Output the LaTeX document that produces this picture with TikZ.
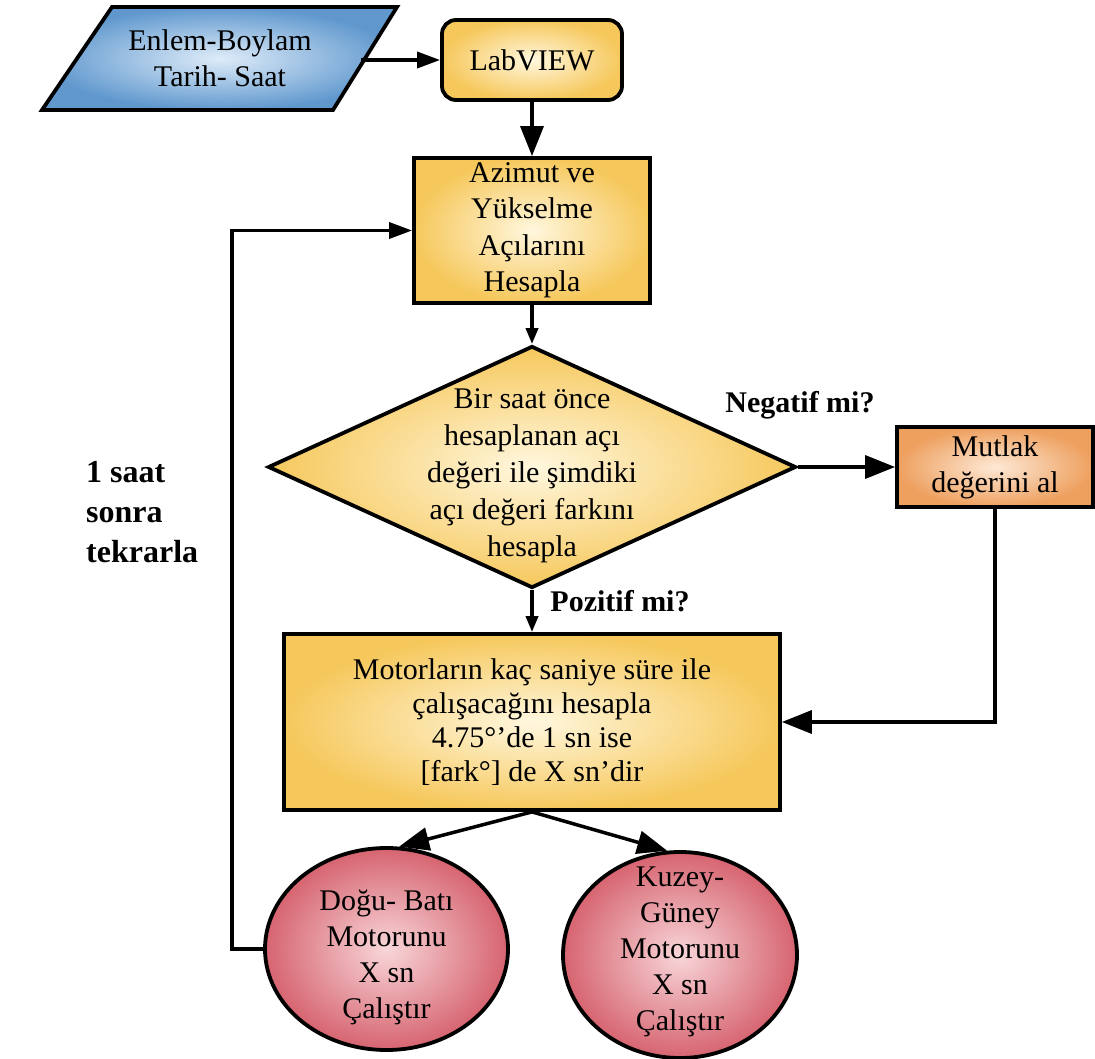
\documentclass[tikz,border=0pt]{standalone}
\usepackage{fontspec}
\setmainfont{Liberation Serif}
\usetikzlibrary{shapes.geometric,arrows.meta}
\definecolor{yelO}{RGB}{246,200,92}
\definecolor{yelI}{RGB}{255,247,222}
\definecolor{bluO}{RGB}{96,152,206}
\definecolor{bluI}{RGB}{222,236,249}
\definecolor{orgO}{RGB}{238,160,95}
\definecolor{orgI}{RGB}{253,233,214}
\definecolor{pnkO}{RGB}{214,100,112}
\definecolor{pnkI}{RGB}{248,214,217}
\begin{document}
\begin{tikzpicture}[x=1pt,y=-1pt,
  shp/.style={draw=black, line width=3.8pt, align=center, inner sep=0pt,
    font=\fontsize{30}{36}\selectfont},
  txt/.style={align=center, inner sep=0pt, font=\fontsize{30}{36}\selectfont},
  yel/.style={inner color=yelI, outer color=yelO},
  blu/.style={inner color=bluI, outer color=bluO},
  org/.style={inner color=orgI, outer color=orgO},
  pnk/.style={inner color=pnkI, outer color=pnkO},
  arrS/.style={line width=3.5pt, -{Triangle[length=16pt,width=12pt]}},
  arrM/.style={line width=3.5pt, -{Triangle[length=23pt,width=16pt]}},
  arrL/.style={line width=3.5pt, -{Triangle[length=30pt,width=23pt]}},
  lbl/.style={inner sep=0pt, font=\bfseries\fontsize{30}{36}\selectfont}]
\fill[white] (0,0) rectangle (1095,1059);
\useasboundingbox (0,0) rectangle (1095,1059);

% input parallelogram
\shade[blu, draw=black, line width=3.8pt, line join=miter]
  (112,7) -- (397,7) -- (333,110) -- (42,110) -- cycle;
\node[txt] (input) at (220,58) {Enlem-Boylam\\Tarih- Saat};
\coordinate (inR) at (361,60);

\node[shp, yel, rounded corners=14pt, minimum width=180pt, minimum height=80pt] (lab) at (532,60) {LabVIEW};
\node[shp, yel, minimum width=236pt, minimum height=145pt, font=\fontsize{30}{36.5}\selectfont] (az) at (532,230.5) {Azimut ve\\Yükselme\\Açılarını\\Hesapla};
\node[shp, yel, diamond, minimum width=528pt, minimum height=242pt] (dec) at (532,467) {};
\node[txt, font=\fontsize{30}{37}\selectfont] (dect) at (532,476) {Bir saat önce\\hesaplanan açı\\değeri ile şimdiki\\açı değeri farkını\\hesapla};
\node[shp, org, minimum width=196pt, minimum height=80pt] (mut) at (995,467) {Mutlak\\değerini al};
\node[shp, yel, minimum width=496pt, minimum height=176pt, font=\fontsize{30}{34}\selectfont] (mot) at (532,722) {Motorların kaç saniye süre ile\\çalışacağını hesapla\\4.75°’de 1 sn ise\\{[fark°]} de X sn’dir};
\node[shp, pnk, ellipse, minimum width=243pt, minimum height=202pt] (e1) at (386.5,949) {};
\node[txt] (e1t) at (386.5,957) {Doğu- Batı\\Motorunu\\X sn\\Çalıştır};
\node[shp, pnk, ellipse, minimum width=234pt, minimum height=206pt] (e2) at (680,955) {};
\node[txt] (e2t) at (680,952) {Kuzey-\\Güney\\Motorunu\\X sn\\Çalıştır};

\node[lbl] (neg) at (800,405) {Negatif mi?};
\node[lbl] (poz) at (620,601) {Pozitif mi?};
\node[lbl, anchor=west, align=left, font=\bfseries\fontsize{32}{40}\selectfont] (rep) at (86,512) {1 saat\\sonra\\tekrarla};

% connectors
\draw[arrM] (inR) -- (lab.west);
\draw[arrL] (lab.south) -- (az.north);
\draw[arrS] (az.south) -- (dec.north);
\draw[arrL] (dec.east) -- (mut.west);
\draw[arrS] (dec.south) -- (mot.north);
\draw[arrL] (mut.south) |- (mot.east);
\draw[arrL] (mot.south) -- (e1.83);
\draw[arrL] (mot.south) -- (e2.97);
\draw[arrM] (e1.west) -- ++(-31,0) |- (az.west);
\end{tikzpicture}
\end{document}
